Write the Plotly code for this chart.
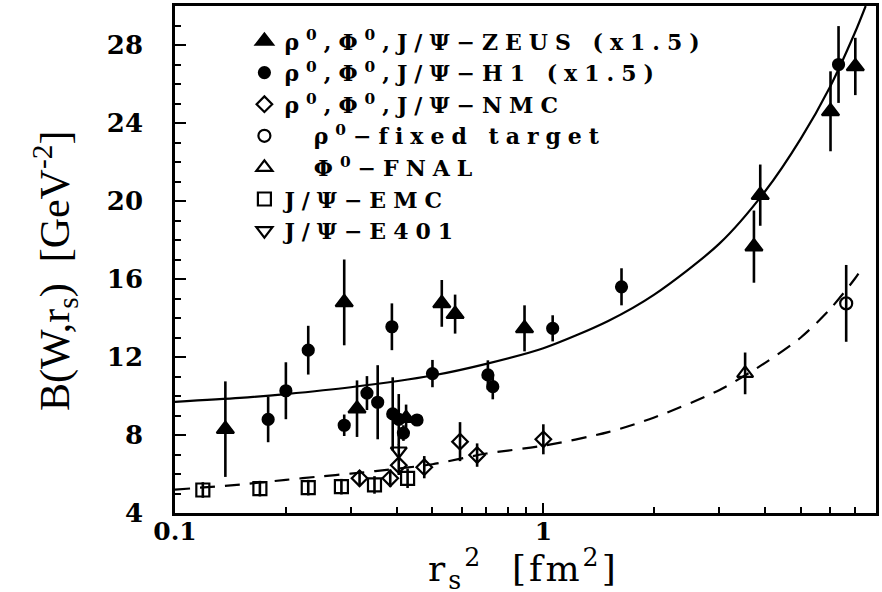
import plotly.graph_objects as go

# ---------------- data ----------------
zeus_x = [0.137, 0.288, 0.312, 0.424, 0.53, 0.576, 0.889, 3.73, 3.88, 6.02, 7.03]
zeus_y = [8.3, 14.8, 9.35, 8.86, 14.75, 14.2, 13.47, 17.66, 20.3, 24.6, 26.9]
zeus_e = [2.45, 2.2, 1.45, 0.7, 1.2, 1.0, 1.18, 1.85, 1.57, 2.05, 1.47]

h1_x = [0.179, 0.2, 0.23, 0.288, 0.332, 0.355, 0.388, 0.39, 0.405, 0.417, 0.454,
        0.50, 0.707, 0.729, 1.06, 1.63, 6.33]
h1_y = [8.8, 10.27, 12.35, 8.5, 10.15, 9.68, 13.55, 9.08, 8.8, 8.1, 8.77,
        11.15, 11.08, 10.48, 13.47, 15.6, 27.0]
h1_e = [1.17, 1.46, 1.25, 0.55, 0.87, 1.9, 1.2, 1.88, 1.3, 0.4, 0.3,
        0.7, 0.75, 0.65, 0.67, 0.95, 1.97]

nmc_x = [0.317, 0.384, 0.405, 0.475, 0.594, 0.661, 1.0]
nmc_y = [5.78, 5.78, 6.45, 6.35, 7.66, 6.97, 7.78]
nmc_e = [0.4, 0.45, 0.5, 0.57, 1.0, 0.6, 0.77]

fixed_x = [6.64]
fixed_y = [14.75]
fixed_e = [1.97]

fnal_x = [3.53]
fnal_y = [11.16]
fnal_e = [1.07]

emc_x = [0.119, 0.17, 0.23, 0.283, 0.348, 0.428]
emc_y = [5.18, 5.25, 5.3, 5.35, 5.44, 5.78]
emc_e = [0.4, 0.4, 0.4, 0.4, 0.45, 0.5]

e401_x = [0.405]
e401_y = [7.18]
e401_e = [0.35]

# fitted curves, points
fit_hi_x = [0.1, 0.15, 0.2, 0.3, 0.5, 0.7, 1.0, 1.5, 2, 3, 4, 5, 6, 7, 7.5]
fit_hi_y = [9.7, 9.9, 10.1, 10.45, 11.05, 11.65, 12.45, 13.85, 15.2, 17.8, 20.5,
            23.2, 25.85, 28.6, 30.0]
fit_lo_x = [0.1, 0.15, 0.2, 0.25, 0.3, 0.35, 0.5, 0.7, 1.0, 1.5, 2, 3, 4, 5, 6, 7, 7.3]
fit_lo_y = [5.2, 5.46, 5.7, 5.88, 6.02, 6.15, 6.5, 7.05, 7.45, 8.15, 8.9, 10.3,
            11.7, 13.0, 14.45, 16.0, 16.5]

x_tickvals = [0.1, 1, 8]
x_ticktext = ["0.1", "1", "8"]
x_minor = [0.2, 0.3, 0.4, 0.5, 0.6, 0.7, 0.8, 0.9, 2, 3, 4, 5, 6, 7]
y_tickvals = [4, 8, 12, 16, 20, 24, 28]

x_title = "r<sub>s</sub><sup>2</sup>  [fm<sup>2</sup>]"
y_title = "B(W,r<sub>s</sub>)  [GeV<sup>-2</sup>]"

legend_names = [
    "ρ<sup>0</sup>,Φ<sup>0</sup>,J/Ψ−ZEUS (x1.5)",
    "ρ<sup>0</sup>,Φ<sup>0</sup>,J/Ψ−H1 (x1.5)",
    "ρ<sup>0</sup>,Φ<sup>0</sup>,J/Ψ−NMC",
    "\u00a0\u00a0ρ<sup>0</sup>−fixed target",
    "\u00a0\u00a0Φ<sup>0</sup>−FNAL",
    "J/Ψ−EMC",
    "J/Ψ−E401",
]

# ---------------- figure ----------------
fig = go.Figure()

fig.add_trace(go.Scatter(x=fit_hi_x, y=fit_hi_y, mode="lines", showlegend=False,
                         line=dict(color="black", width=2.2, shape="spline", smoothing=0.8),
                         hoverinfo="skip"))
fig.add_trace(go.Scatter(x=fit_lo_x, y=fit_lo_y, mode="lines", showlegend=False,
                         line=dict(color="black", width=2.2, dash="15px,10px",
                                   shape="spline", smoothing=0.8),
                         hoverinfo="skip"))

def err(arr):
    return dict(type="data", array=arr, visible=True, color="black", thickness=2.6, width=0)

series = [
    (zeus_x, zeus_y, zeus_e, "triangle-up", 15, legend_names[0]),
    (h1_x, h1_y, h1_e, "circle", 11, legend_names[1]),
    (nmc_x, nmc_y, nmc_e, "diamond-open", 12, legend_names[2]),
    (fixed_x, fixed_y, fixed_e, "circle-open", 12, legend_names[3]),
    (fnal_x, fnal_y, fnal_e, "triangle-up-open", 14, legend_names[4]),
    (emc_x, emc_y, emc_e, "square-open", 13, legend_names[5]),
    (e401_x, e401_y, e401_e, "triangle-down-open", 14, legend_names[6]),
]
for xs, ys, es, sym, sz, name in series:
    fig.add_trace(go.Scatter(
        x=xs, y=ys, mode="markers", name=name, error_y=err(es),
        marker=dict(symbol=sym, size=sz, color="black",
                    line=dict(color="black", width=2.2)),
    ))

y_tick_font = dict(family="DejaVu Serif", size=26, color="black", weight="bold")
x_tick_font = dict(family="DejaVu Serif", size=25, color="black", weight="bold")

fig.update_layout(
    width=882, height=592,
    margin=dict(l=175, r=3, t=6, b=79),
    paper_bgcolor="white", plot_bgcolor="white",
    showlegend=True,
    legend=dict(x=0.099, y=0.972, xanchor="left", yanchor="top",
                bgcolor="rgba(0,0,0,0)", borderwidth=0,
                font=dict(family="DejaVu Serif", size=22, color="black", weight="bold"),
                tracegroupgap=0, itemwidth=30),
    xaxis=dict(
        type="log", range=[-1, 0.90309],
        tickvals=x_tickvals, ticktext=x_ticktext,
        ticks="inside", ticklen=10, tickwidth=2, tickcolor="black",
        showline=True, linewidth=2.5, linecolor="black", mirror=True,
        showgrid=False, zeroline=False,
        tickfont=x_tick_font, ticklabelstandoff=-6,
        minor=dict(tickvals=x_minor, ticks="inside", ticklen=6, tickwidth=2,
                   tickcolor="black", showgrid=False),
    ),
    yaxis=dict(
        range=[4, 30],
        tickvals=y_tickvals,
        ticks="inside", ticklen=11, tickwidth=2, tickcolor="black",
        showline=True, linewidth=2.5, linecolor="black", mirror=True,
        showgrid=False, zeroline=False,
        tickfont=y_tick_font, ticklabelstandoff=24,
        minor=dict(dtick=1, ticks="inside", ticklen=6, tickwidth=2,
                   tickcolor="black", showgrid=False),
    ),
    annotations=[
        dict(text=y_title, textangle=-90, showarrow=False,
             xref="paper", yref="paper", x=-0.172, y=0.478,
             xanchor="center", yanchor="middle",
             font=dict(family="Liberation Serif", size=42, color="black")),
        dict(text=x_title, showarrow=False,
             xref="paper", yref="paper", x=0.497, y=-0.165,
             xanchor="center", yanchor="bottom",
             font=dict(family="DejaVu Serif", size=36, color="black")),
    ],
)

post = """
document.querySelectorAll('.legendtext').forEach(function(t){t.style.letterSpacing='7px';});
document.querySelectorAll('.legend [clip-path]').forEach(function(e){e.removeAttribute('clip-path');});
document.querySelectorAll('.annotation[data-index="1"] .annotation-text').forEach(function(t){t.style.letterSpacing='3px';});
"""
fig.write_html("out.html", post_script=post)
